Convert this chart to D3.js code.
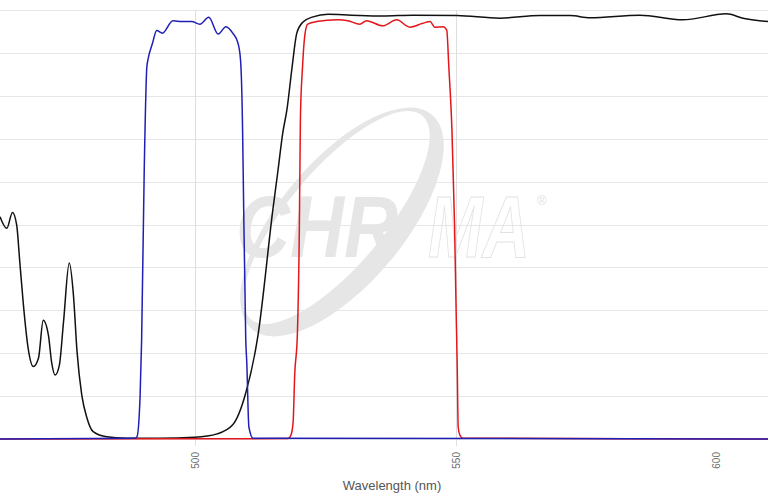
<!DOCTYPE html>
<html>
<head>
<meta charset="utf-8">
<script src="https://cdn.jsdelivr.net/npm/d3@7"></script>
<style>
  html, body { margin: 0; padding: 0; background: #fff; }
  svg { display: block; font-family: 'Liberation Sans', Arial, sans-serif; }
</style>
</head>
<body>
<svg id="chart" width="768" height="501"></svg>
<script>
// transmission curves (nm, %T)
const blackNm = [462.5, 463.8, 464.9, 465.7, 466.3, 467.0, 467.9, 468.9, 469.9, 470.8, 471.8, 472.4, 473.1, 473.9, 474.7, 475.8, 476.6, 477.3, 478.2, 479.2, 480.4, 483.0, 486.8, 493.2, 499.9, 504.2, 507.2, 509.6, 512.0, 514.9, 515.9, 516.8, 517.6, 518.6, 519.5, 520.7, 522.6, 525.5, 530.0, 536.0, 541.8, 550.3, 558.5, 566.2, 572.0, 575.8, 585.4, 593.6, 602.0, 605.2, 610.0];
const blackT = [51.8, 49.1, 52.8, 49.9, 41.3, 31.2, 21.2, 16.9, 18.9, 27.7, 24.2, 18.0, 14.9, 17.2, 27.3, 41.0, 33.6, 20.3, 10.3, 4.9, 1.7, 0.5, 0.2, 0.15, 0.4, 1.2, 3.3, 10.3, 23.8, 53.4, 62.7, 71.3, 76.7, 86.7, 94.6, 97.2, 98.4, 99.0, 98.8, 98.6, 98.8, 98.7, 98.1, 98.7, 98.7, 98.2, 98.8, 97.7, 99.1, 98.1, 97.3];

const blueNm = [462.5, 488.4, 488.8, 489.4, 489.7, 490.2, 490.7, 490.9, 491.8, 492.6, 493.7, 495.7, 497.4, 499.3, 500.9, 502.6, 504.4, 505.9, 507.2, 508.2, 508.7, 509.1, 509.2, 509.7, 509.9, 510.3, 511.1, 610.0];
const blueT = [0, 0.2, 0.5, 9.8, 23.1, 62.7, 86.7, 88.3, 92.3, 95.2, 94.6, 97.5, 97.3, 97.3, 96.7, 98.3, 94.4, 96.1, 94.6, 92.3, 88.3, 71.3, 62.7, 23.1, 17.7, 2.8, 0.2, 0];

const redNm = [462.5, 517.8, 518.4, 518.8, 519.1, 519.6, 520.0, 520.2, 520.6, 521.1, 521.6, 523.3, 527.4, 529.3, 531.6, 532.9, 536.0, 538.7, 541.2, 543.7, 545.1, 546.0, 547.6, 548.3, 548.7, 549.3, 549.8, 550.1, 550.3, 550.5, 550.8, 551.4, 610.0];
const redT = [0, 0.1, 1, 4, 15, 24, 50, 75, 86.7, 94.6, 96.7, 97.3, 97.7, 97.5, 96.7, 97.5, 96.3, 97.7, 96.0, 96.9, 97.3, 96.0, 96.1, 95.3, 86.7, 72, 50, 30, 18, 2.8, 1, 0.2, 0];

const xTicks = [500, 550, 600];
const xGrid = [500, 550];
const yTicks = [0, 10, 20, 30, 40, 50, 60, 70, 80, 90, 100];

const svg = d3.select('#chart');

const x = d3.scaleLinear().domain([462.5, 610]).range([0, 768]);
const y = d3.scaleLinear().domain([0, 100]).range([439, 10]);

// grid
svg.append('g')
  .selectAll('line')
  .data(yTicks)
  .join('line')
  .attr('x1', 0)
  .attr('x2', 768)
  .attr('y1', d => Math.round(y(d)) + 0.5)
  .attr('y2', d => Math.round(y(d)) + 0.5)
  .attr('stroke', '#e6e6e6');

svg.append('g')
  .selectAll('line')
  .data(xGrid)
  .join('line')
  .attr('x1', d => Math.round(x(d)) + 0.5)
  .attr('x2', d => Math.round(x(d)) + 0.5)
  .attr('y1', 10)
  .attr('y2', 446)
  .attr('stroke', '#dedede');

// watermark
const wmFont = "'Liberation Sans', Arial, sans-serif";
const wm = svg.append('g').attr('fill', '#e6e6e6');
wm.append('path')
  .attr('transform', 'translate(342,222) rotate(-50)')
  .attr('fill-rule', 'evenodd')
  .attr('d', 'M-140,0 A140,62 0 1,0 140,0 A140,62 0 1,0 -140,0 Z M-133,-7 A133,48 0 1,0 133,-7 A133,48 0 1,0 -133,-7 Z');
wm.append('text')
  .attr('transform', 'translate(236,257) scale(0.85,1)')
  .attr('font-family', wmFont)
  .attr('font-size', 88)
  .attr('font-weight', 'bold')
  .attr('font-style', 'italic')
  .text('CHR');
wm.append('text')
  .attr('transform', 'translate(428,257) scale(0.745,1)')
  .attr('font-family', wmFont)
  .attr('font-size', 88)
  .attr('font-weight', 'bold')
  .attr('font-style', 'italic')
  .attr('fill', 'none')
  .attr('stroke', '#e2e2e2')
  .attr('stroke-width', 1)
  .text('MA');
wm.append('text')
  .attr('x', 537)
  .attr('y', 205)
  .attr('font-size', 13)
  .attr('fill', '#e2e2e2')
  .text('®');

// curves
const line = d3.line()
  .x(d => x(d[0]))
  .y(d => y(d[1]))
  .curve(d3.curveMonotoneX);

const series = [
  { nm: blackNm, t: blackT, color: '#111111' },
  { nm: redNm, t: redT, color: '#e3161b' },
  { nm: blueNm, t: blueT, color: '#1f1fb4' },
];

svg.append('g')
  .selectAll('path')
  .data(series)
  .join('path')
  .attr('fill', 'none')
  .attr('stroke', d => d.color)
  .attr('stroke-width', 1.5)
  .attr('stroke-linejoin', 'round')
  .attr('d', d => line(d.nm.map((v, i) => [v, d.t[i]])));

// x axis labels
svg.append('g')
  .selectAll('text')
  .data(xTicks)
  .join('text')
  .attr('transform', d => `translate(${x(d) + 0.5},452) rotate(-90)`)
  .attr('text-anchor', 'end')
  .attr('dy', '0.35em')
  .attr('font-size', 10)
  .attr('fill', '#707070')
  .text(d => d);

svg.append('text')
  .attr('x', 392)
  .attr('y', 490)
  .attr('text-anchor', 'middle')
  .attr('font-size', 13)
  .attr('fill', '#555')
  .text('Wavelength (nm)');
</script>
</body>
</html>
